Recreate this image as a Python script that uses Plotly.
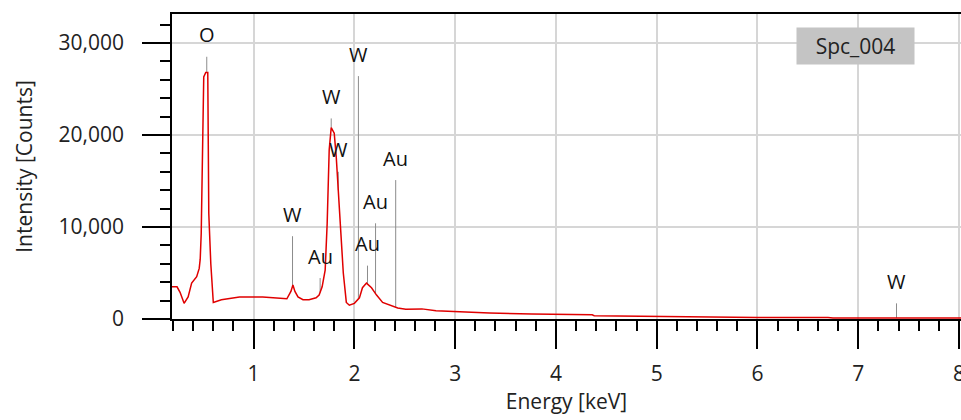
import numpy as np
import plotly.graph_objects as go

# Spectrum
energy_kev = [0.19, 0.24, 0.27, 0.31, 0.35, 0.385, 0.435, 0.46, 0.47, 0.48, 0.495, 0.505, 0.525,
              0.545, 0.55, 0.555, 0.575, 0.585, 0.60, 0.68, 0.73, 0.86, 1.09, 1.33, 1.37, 1.39, 1.41,
              1.44, 1.49, 1.55, 1.62, 1.65, 1.68, 1.71, 1.73, 1.75, 1.77, 1.80, 1.82, 1.85,
              1.87, 1.89, 1.92, 1.95, 2.0, 2.05, 2.08, 2.12, 2.17, 2.22, 2.28, 2.35, 2.43,
              2.51, 2.67, 2.81, 3.07, 3.34, 3.76, 4.36, 4.38, 5.1, 5.22, 5.6, 6.0, 6.7, 6.75,
              7.5, 8.02]
counts = [3500, 3500, 2900, 1700, 2400, 3900, 4600, 5500, 6500, 9300, 19500, 26300, 26800,
          26800, 19000, 11500, 6000, 3900, 1800, 2100, 2200, 2400, 2400, 2200, 3000, 3700, 3000,
          2400, 2100, 2100, 2300, 2600, 3500, 5300, 10400, 18400, 20800, 20200, 17600, 12200,
          9700, 5000, 1800, 1500, 1700, 2300, 3400, 3900, 3400, 2600, 1800, 1500, 1200,
          1050, 1100, 900, 750, 650, 550, 450, 350, 250, 200, 180, 150, 150, 100,
          100, 100]

# Peak identification markers
peak_energy = [0.535, 1.386, 1.66, 1.77, 1.84, 2.04, 2.13, 2.21, 2.41, 7.38]
peak_height = [28500, 9000, 4450, 21800, 16000, 26400, 5800, 10400, 15100, 1700]
peak_labels = ["O", "W", "Au", "W", "W", "W", "Au", "Au", "Au", "W"]

FONT = "Open Sans, Noto Sans, sans-serif"
FS = 21

fig = go.Figure()

# marker lines from spectrum up to peak height
base = np.interp(peak_energy, energy_kev, counts)
lx, ly = [], []
for e, b, h in zip(peak_energy, base, peak_height):
    lx += [e, e, None]
    ly += [min(b, h), h, None]
fig.add_trace(go.Scatter(x=lx, y=ly, mode="lines",
                         line=dict(color="#8c8c8c", width=1), hoverinfo="skip",
                         showlegend=False))

fig.add_trace(go.Scatter(x=energy_kev, y=counts, mode="lines",
                         line=dict(color="#e00000", width=1.5), showlegend=False))

for e, h, t in zip(peak_energy, peak_height, peak_labels):
    fig.add_annotation(x=e, y=h, text=t, showarrow=False, yanchor="middle",
                       xanchor="center", yshift=22,
                       font=dict(family=FONT, size=FS - 1, color="#111"))

fig.add_annotation(xref="paper", yref="paper", x=0.8657, y=0.895, text="Spc_004",
                   xanchor="center", yanchor="middle",
                   showarrow=False, bgcolor="#c4c4c4", width=115, height=34,
                   font=dict(family=FONT, size=FS, color="#222"))

fig.update_layout(
    width=961, height=420,
    margin=dict(l=172, r=0, t=14, b=101, autoexpand=False),
    paper_bgcolor="white", plot_bgcolor="white",
    font=dict(family=FONT, size=FS, color="#222"),
    xaxis=dict(range=[0.19, 8.02], dtick=1, tick0=0, showgrid=True,
               gridcolor="#d6d6d6", gridwidth=1.5, zeroline=False,
               showline=True, linecolor="black", linewidth=1.5, mirror=True,
               ticks="outside", ticklen=28, tickwidth=1.5, tickcolor="black",
               ticklabelstandoff=7, tickfont=dict(size=FS),
               ticklabeloverflow="allow", automargin=False,
               minor=dict(dtick=0.2, tick0=0, ticks="outside", ticklen=10,
                          tickwidth=1.5, tickcolor="black", showgrid=False),
               title=dict(text="Energy [keV]", standoff=4,
                          font=dict(family=FONT, size=FS))),
    yaxis=dict(range=[0, 33150], dtick=10000, tick0=0, showgrid=True,
               gridcolor="#d6d6d6", gridwidth=1.5, zeroline=False,
               showline=True, linecolor="black", linewidth=1.5,
               ticks="outside", ticklen=28, tickwidth=1.5, tickcolor="black",
               tickformat=",d", ticklabelstandoff=14, tickfont=dict(size=FS),
               automargin=False,
               minor=dict(dtick=2000, tick0=0, ticks="outside", ticklen=10,
                          tickwidth=1.5, tickcolor="black", showgrid=False),
               title=dict(text="Intensity [Counts]", standoff=20,
                          font=dict(family=FONT, size=FS))),
)

fig.write_html("out.html")
